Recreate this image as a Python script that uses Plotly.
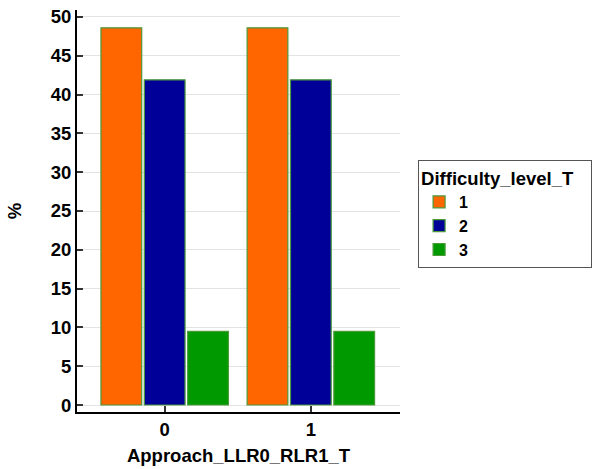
import plotly.graph_objects as go

categories = ["0", "1"]
levels = ["1", "2", "3"]
level1 = [48.6, 48.6]
level2 = [41.9, 41.9]
level3 = [9.5, 9.5]
colors = ["#FF6600", "#000099", "#009900"]

fig = go.Figure()
for name, vals, c in zip(levels, [level1, level2, level3], colors):
    fig.add_trace(go.Bar(
        x=[0, 1], y=vals, name=name,
        marker=dict(color=c, line=dict(color="#4a9a3a", width=1.2)),
    ))

font_family = "Liberation Sans, Arial, sans-serif"
fs = 18.5
fig.update_layout(
    width=612, height=469,
    margin=dict(l=77, r=212, t=10, b=57, autoexpand=False),
    paper_bgcolor="white", plot_bgcolor="white",
    barmode="group", bargap=0.11, bargroupgap=0.06,
    font=dict(family=font_family, size=fs, color="black"),
    showlegend=True,
    legend=dict(
        x=1.056, y=0.627, xanchor="left", yanchor="top",
        bordercolor="#555555", borderwidth=1,
        title=dict(text="<b>Difficulty_level_T</b>" + "&nbsp;" * 3, font=dict(size=fs)),
        font=dict(size=16, weight="bold"),
        itemwidth=30, tracegroupgap=0,
    ),
    xaxis=dict(
        range=[-0.6, 1.61], tickmode="array", tickvals=[0, 1], ticktext=categories,
        showline=True, linecolor="black", linewidth=2, automargin=False,
        ticks="inside", ticklen=6, tickwidth=2, tickcolor="#333333",
        showgrid=False, zeroline=False, ticklabeloverflow="allow",
        tickfont=dict(size=fs, weight="bold"),
        title=dict(text="<b>Approach_LLR0_RLR1_T</b>", font=dict(size=fs), standoff=10),
    ),
    yaxis=dict(
        range=[-0.9, 50.9], tickvals=[0, 5, 10, 15, 20, 25, 30, 35, 40, 45, 50],
        showline=True, linecolor="black", linewidth=2, automargin=False,
        ticks="inside", ticklen=6, tickwidth=2, tickcolor="#333333",
        showgrid=True, gridcolor="#e3e3e3", gridwidth=1, zeroline=False,
        ticklabeloverflow="allow",
        tickfont=dict(size=fs, weight="bold"),
        title=dict(text="<b>%</b>", font=dict(size=fs), standoff=24),
    ),
)

fig.write_html("out.html", config={"displayModeBar": False},
               post_script="document.body.style.margin='0';")
